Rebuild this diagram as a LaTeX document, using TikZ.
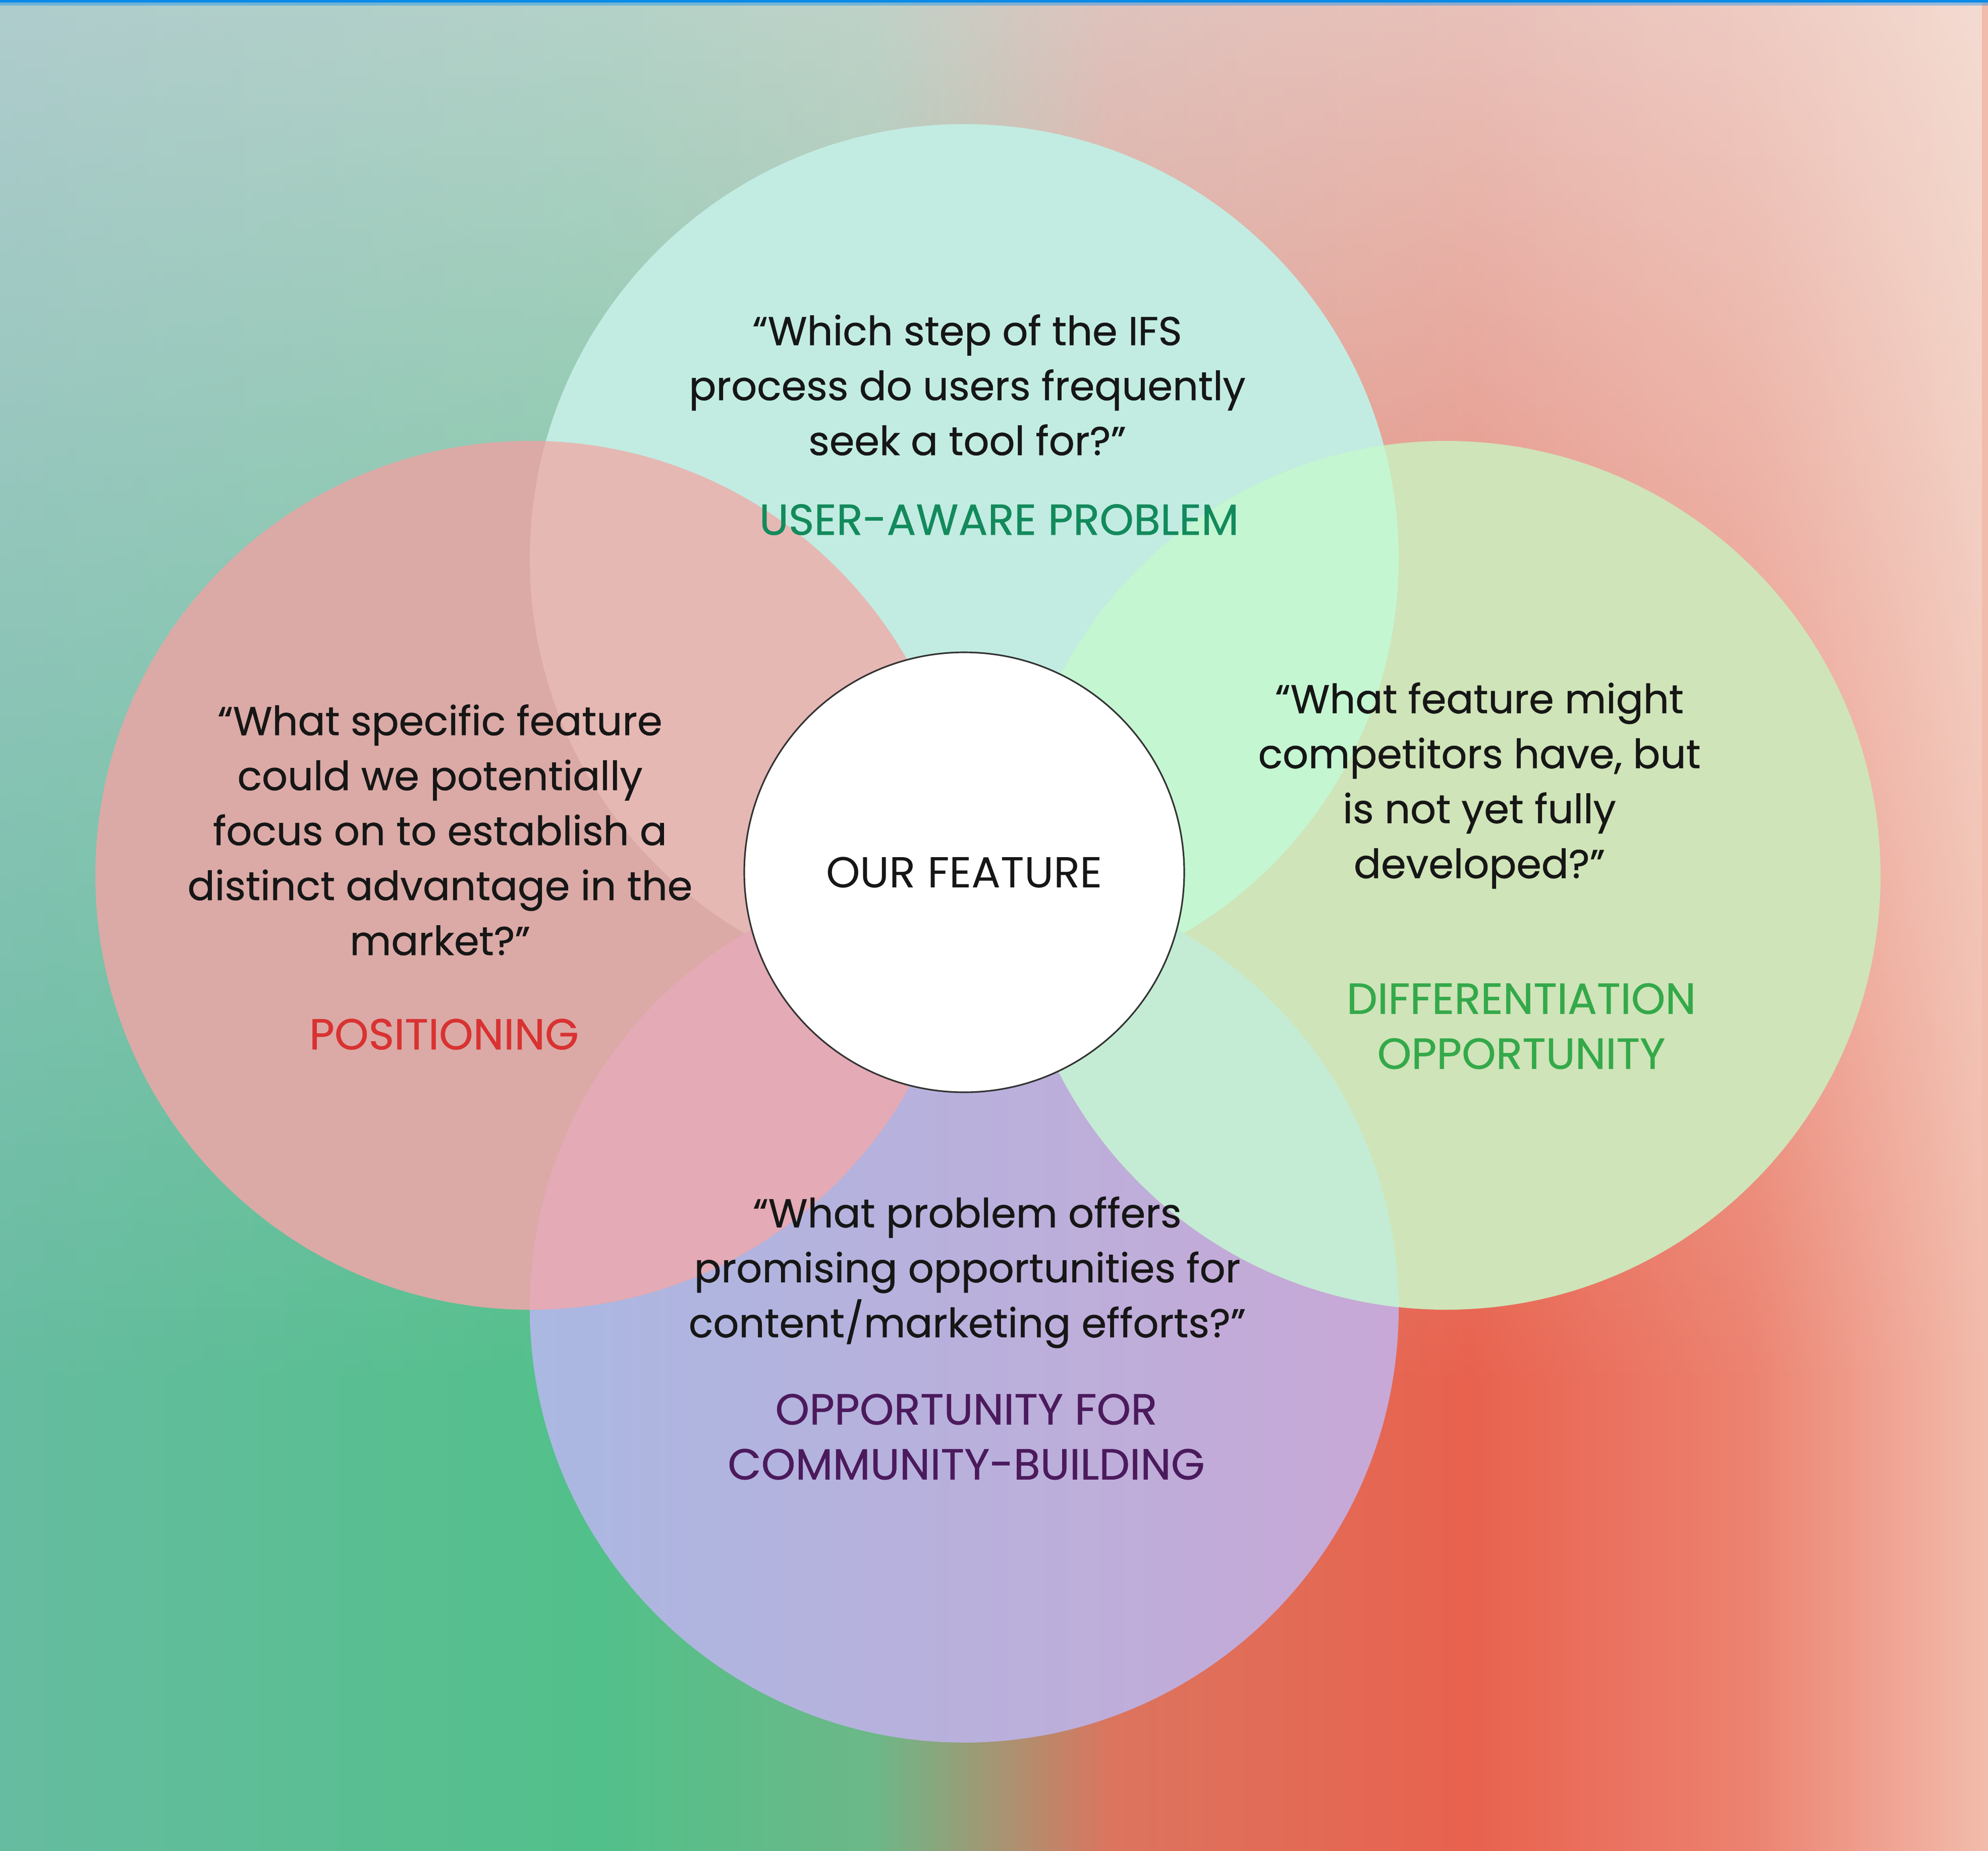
\documentclass[tikz,border=0pt]{standalone}
\usepackage{fontspec}
\setmainfont{Poppins}
\newfontfamily\medfont{Poppins}[FakeBold=0.6]
\usetikzlibrary{fadings}

\definecolor{barblue}{HTML}{0B8BE8}
\definecolor{topfill}{HTML}{C2ECE2}
\definecolor{leftfill}{HTML}{DBAAA6}
\definecolor{rightfill}{HTML}{CFE4B8}
\definecolor{botl}{HTML}{AAB8E2}
\definecolor{botr}{HTML}{C8A8D6}
\definecolor{lefttop}{HTML}{E6B8B4}
\definecolor{leftbot}{HTML}{E4AAB6}
\definecolor{righttop}{HTML}{C4F6D2}
\definecolor{rightbot}{HTML}{C4ECD4}
\definecolor{ink}{HTML}{161616}
\definecolor{usergreen}{HTML}{138A5C}
\definecolor{posred}{HTML}{D93232}
\definecolor{diffgreen}{HTML}{34A94A}
\definecolor{commpurple}{HTML}{4B1A5C}
\definecolor{washl}{HTML}{C8D2DC}
\definecolor{washr}{HTML}{F4E6DE}
\definecolor{bga}{HTML}{66BCA0}
\definecolor{bgb}{HTML}{52C08A}
\definecolor{bgc}{HTML}{6CB888}
\definecolor{bgd}{HTML}{DC745E}
\definecolor{bge}{HTML}{E8624E}
\definecolor{bgf}{HTML}{EC8270}
\definecolor{bgg}{HTML}{F2BCAC}

\pgfdeclarehorizontalshading{bgshade}{100bp}{%
  color(0bp)=(bga); color(25bp)=(bga);
  color(40bp)=(bgb); color(47bp)=(bgc);
  color(53bp)=(bgd); color(62bp)=(bge);
  color(69bp)=(bgf); color(75bp)=(bgg);
  color(100bp)=(bgg)}
\tikzfading[name=topwash, top color=transparent!25, bottom color=transparent!100]

\begin{document}
\begin{tikzpicture}[
  quote/.style={align=center, text=ink, font=\medfont\fontsize{22.7}{31}\selectfont},
  lbl/.style={align=center, font=\medfont\fontsize{24.5}{31}\selectfont}
]
  \useasboundingbox (0,0) rectangle (39.40,-36.68);
  % background
  \shade[shading=bgshade] (0,0) rectangle (39.40,-36.68);
  \shade[left color=washl, right color=washr, path fading=topwash] (0,0) rectangle (39.40,-27.5);
  \fill[barblue] (0,0) rectangle (39.40,-0.05);
  \fill[barblue, opacity=0.4] (0,-0.05) rectangle (39.40,-0.11);

  \def\R{8.61}
  \coordinate (topc) at (19.11,-11.07);
  \coordinate (leftc) at (10.50,-17.35);
  \coordinate (rightc) at (28.66,-17.35);
  \coordinate (botc) at (19.11,-25.93);

  \fill[topfill] (topc) circle (\R);
  \shade[left color=botl, right color=botr] (botc) circle (\R);
  \fill[leftfill] (leftc) circle (\R);
  \fill[rightfill] (rightc) circle (\R);
  \begin{scope}
    \clip (leftc) circle (\R);
    \fill[lefttop] (topc) circle (\R);
    \fill[leftbot] (botc) circle (\R);
  \end{scope}
  \begin{scope}
    \clip (rightc) circle (\R);
    \fill[righttop] (topc) circle (\R);
    \fill[rightbot] (botc) circle (\R);
  \end{scope}

  \node[circle, draw=black!80, line width=0.9pt, fill=white, minimum size=8.72cm,
        font=\fontsize{24.5}{31}\selectfont, text=ink] (core) at (19.11,-17.29) {OUR FEATURE};

  \node[quote] (topq) at (19.17,-7.63)
    {“Which step of the IFS\\process do users frequently\\seek a tool for?”};
  \node[lbl, text=usergreen] (toplbl) at (19.80,-10.30) {USER-AWARE PROBLEM};

  \node[quote] (leftq) at (8.72,-16.45)
    {“What specific feature\\could we potentially\\focus on to establish a\\distinct advantage in the\\market?”};
  \node[lbl, text=posred] (leftlbl) at (8.80,-20.50) {POSITIONING};

  \node[quote] (rightq) at (29.32,-15.57)
    {“What feature might\\competitors have, but\\is not yet fully\\developed?”};
  \node[lbl, text=diffgreen] (rightlbl) at (30.15,-20.34) {DIFFERENTIATION\\OPPORTUNITY};

  \node[quote] (botq) at (19.17,-25.22)
    {“What problem offers\\promising opportunities for\\content/marketing efforts?”};
  \node[lbl, text=commpurple] (botlbl) at (19.15,-28.48) {OPPORTUNITY FOR\\COMMUNITY-BUILDING};
\end{tikzpicture}
\end{document}
